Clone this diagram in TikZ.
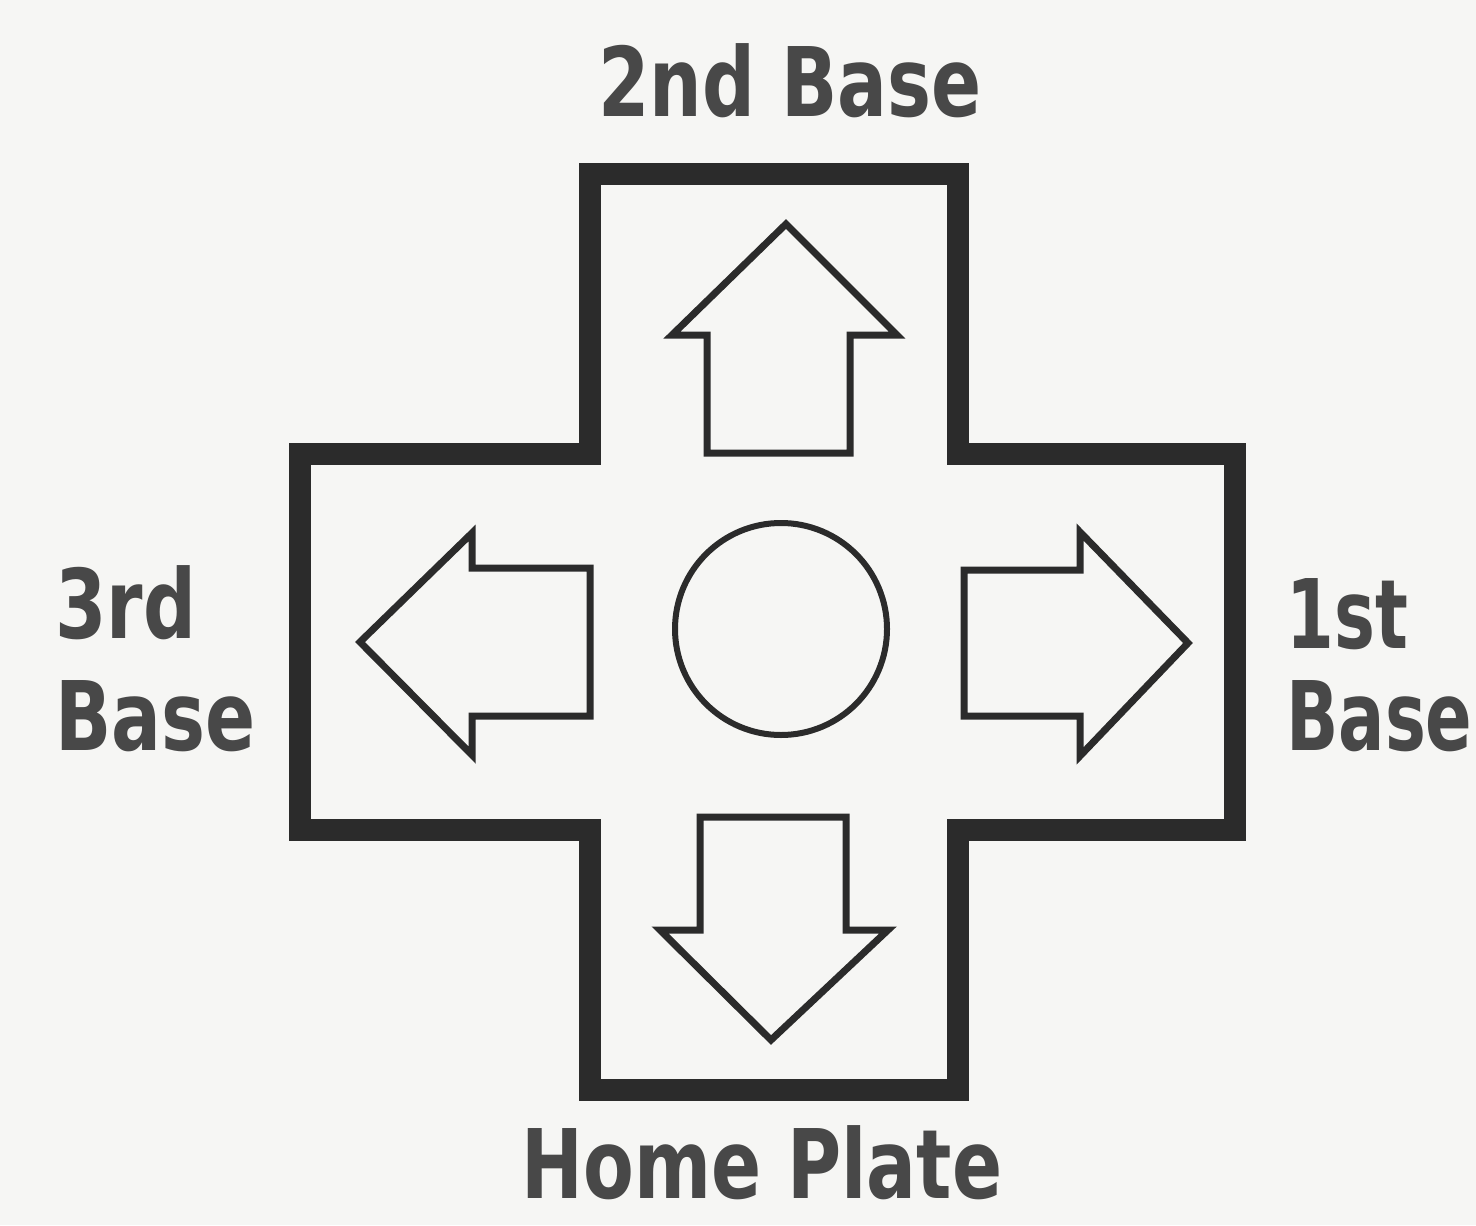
\documentclass[tikz,border=0pt]{standalone}
\usepackage{fontspec}
\setmainfont{DejaVu Sans}
\definecolor{dark}{RGB}{43,43,43}
\definecolor{txt}{RGB}{72,72,72}
\definecolor{bg}{RGB}{246,246,244}
\begin{document}
\begin{tikzpicture}[x=0.5pt,y=-0.5pt,
  crossline/.style={draw=dark, line width=11pt, line join=miter},
  arrowline/.style={draw=dark, line width=3.5pt, line join=miter},
  lbl/.style={font=\bfseries\fontsize{48}{52}\selectfont, text=txt, inner sep=0pt, xscale=0.77}]
\fill[bg] (0,0) rectangle (1476,1225);
\useasboundingbox (0,0) rectangle (1476,1225);
% cross outline
\draw[crossline] (590,174) -- (958,174) -- (958,454) -- (1235,454) -- (1235,830)
  -- (958,830) -- (958,1090) -- (590,1090) -- (590,830) -- (300,830) -- (300,454)
  -- (590,454) -- cycle;
% centre button
\node[circle, draw=dark, line width=3pt, minimum size=106pt, inner sep=0pt] (pad) at (781,629) {};
% up arrow
\draw[arrowline] (707,453) -- (707,335) -- (672,335) -- (786,224) -- (897,335)
  -- (850,335) -- (850,453) -- cycle;
% down arrow
\draw[arrowline] (700,817) -- (846,817) -- (846,930) -- (888,930) -- (771,1040)
  -- (660,930) -- (700,930) -- cycle;
% left arrow
\draw[arrowline] (590,568) -- (590,716) -- (472,716) -- (472,755) -- (360,642)
  -- (472,533) -- (472,568) -- cycle;
% right arrow
\draw[arrowline] (964,570) -- (1080,570) -- (1080,532) -- (1188,643) -- (1080,756)
  -- (1080,716) -- (964,716) -- cycle;
% labels
\node[lbl, anchor=base] (second) at (790,117) {2nd Base};
\node[lbl, anchor=base] (home) at (762,1198) {Home Plate};
\node[lbl, anchor=base west] (thirdA) at (55,638) {3rd};
\node[lbl, anchor=base west] (thirdB) at (55,750) {Base};
\node[lbl, anchor=base west, xscale=0.93] (firstA) at (1286,648) {1st};
\node[lbl, anchor=base west, xscale=0.93] (firstB) at (1286,750) {Base};
\end{tikzpicture}
\end{document}
